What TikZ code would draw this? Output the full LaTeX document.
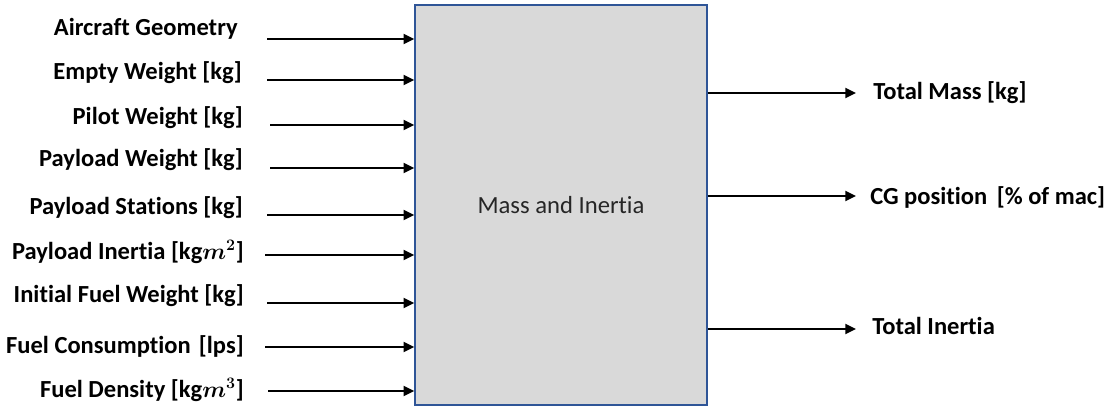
\documentclass[tikz,border=0pt]{standalone}
\usepackage{fontspec}
\setmainfont[Ligatures=NoCommon]{Carlito}
\usetikzlibrary{arrows.meta}
\definecolor{boxfill}{RGB}{217,217,217}
\definecolor{boxline}{RGB}{47,85,151}
\definecolor{boxtext}{RGB}{38,38,38}
\begin{document}
\begin{tikzpicture}[x=0.75pt,y=-0.75pt,
  label/.style={font=\fontsize{18.4}{21}\selectfont\bfseries, inner sep=0pt},
  inlabel/.style={label, anchor=mid east},
  outlabel/.style={label, anchor=mid west},
  flow/.style={line width=1.6pt, -{Triangle[length=8pt,width=7.5pt]}},
  block/.style={draw=boxline, fill=boxfill, line width=1.2pt,
    minimum width=219pt, minimum height=300pt, inner sep=0pt,
    text=boxtext, font=\fontsize{18.5}{20}\selectfont}]
\useasboundingbox (0,0) rectangle (1113,409);

% central block
\node[block] (box) at (561,205) {Mass and Inertia};

% inputs
\node[inlabel] (geo)   at (238,32)  {Aircraft Geometry};
\node[inlabel] (empty) at (242,76)  {Empty Weight [kg]};
\node[inlabel] (pilot) at (243,121) {Pilot Weight [kg]};
\node[inlabel] (pw)    at (243,163) {Payload Weight [kg]};
\node[inlabel] (ps)    at (243,211) {Payload Stations [kg]};
\node[inlabel] (pin)   at (244,256) {Payload Inertia [kg{\boldmath$m^{2}$}]};
\node[inlabel] (ifw)   at (244,299) {Initial Fuel Weight [kg]};
\node[inlabel] (fc)    at (244,350) {Fuel Consumption\hspace{2pt} [lps]};
\node[inlabel] (fd)    at (244,394) {Fuel Density [kg{\boldmath$m^{3}$}]};

\coordinate (s1) at (267,39);
\coordinate (s2) at (267,80);
\coordinate (s3) at (270,125);
\coordinate (s4) at (270,168);
\coordinate (s5) at (267,215);
\coordinate (s6) at (265,255);
\coordinate (s7) at (267,303);
\coordinate (s8) at (265,347);
\coordinate (s9) at (268,391);
\foreach \s in {s1,s2,s3,s4,s5,s6,s7,s8,s9}
  \draw[flow] (\s) -- (\s -| box.west);

% outputs
\coordinate (e1) at (856,93);
\coordinate (e2) at (856,196);
\coordinate (e3) at (856,329);
\foreach \e in {e1,e2,e3}
  \draw[flow] (\e -| box.east) -- (\e);

\node[outlabel] (mass)  at (873,96)  {Total Mass [kg]};
\node[outlabel] (cg)    at (870,201) {CG position\hspace{3pt} [\% of mac]};
\node[outlabel] (inert) at (872,331) {Total Inertia};
\end{tikzpicture}
\end{document}
